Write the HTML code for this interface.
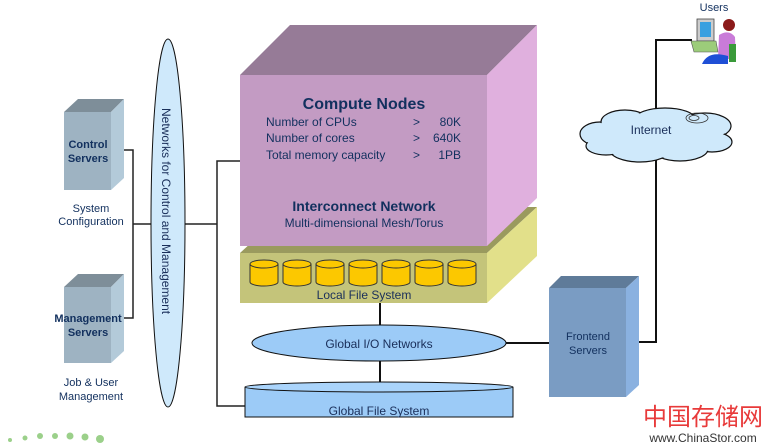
<!DOCTYPE html>
<html><head><meta charset="utf-8"><style>
body{margin:0;background:#fff;}
svg{display:block;font-family:"Liberation Sans","DejaVu Sans",sans-serif;}
</style></head><body>
<svg width="773" height="447" viewBox="0 0 773 447" xmlns="http://www.w3.org/2000/svg">
<!-- connectors -->
<g stroke="#222" stroke-width="1.5" fill="none">
<polyline points="117,150 133,150 133,318 117,318"/>
<line x1="133" y1="224" x2="152" y2="224"/>
<line x1="185" y1="224" x2="217" y2="224"/>
<polyline points="240,161 217,161 217,406 247,406"/>
</g>
<g stroke="#111" stroke-width="2" fill="none">
<line x1="380" y1="302" x2="380" y2="326"/>
<line x1="380" y1="360" x2="380" y2="382"/>
<line x1="504" y1="343" x2="549" y2="343"/>
<polyline points="636,342 656,342 656,40 692,40"/>
</g>
<!-- vertical ellipse -->
<ellipse cx="168" cy="223" rx="17" ry="184" fill="#cfe9fb" stroke="#111" stroke-width="1"/>
<text transform="translate(162,108) rotate(90)" font-size="12" fill="#1a2f5a">Networks for Control and Management</text>
<!-- control server -->
<polygon points="64,112 78,99 124,99 111,112" fill="#7e8e99"/>
<polygon points="111,112 124,99 124,178 111,190" fill="#b3cad9"/>
<rect x="64" y="112" width="47" height="78" fill="#9eb3c2"/>
<text x="88" y="148" font-size="11" font-weight="bold" fill="#12305e" text-anchor="middle">Control</text>
<text x="88" y="162" font-size="11" font-weight="bold" fill="#12305e" text-anchor="middle">Servers</text>
<text x="91" y="212" font-size="11" fill="#12305e" text-anchor="middle">System</text>
<text x="91" y="225" font-size="11" fill="#12305e" text-anchor="middle">Configuration</text>
<!-- mgmt server -->
<polygon points="64,287 78,274 124,274 111,287" fill="#7e8e99"/>
<polygon points="111,287 124,274 124,351 111,363" fill="#b3cad9"/>
<rect x="64" y="287" width="47" height="76" fill="#9eb3c2"/>
<text x="88" y="322" font-size="11" font-weight="bold" fill="#12305e" text-anchor="middle">Management</text>
<text x="88" y="336" font-size="11" font-weight="bold" fill="#12305e" text-anchor="middle">Servers</text>
<text x="91" y="386" font-size="11" fill="#12305e" text-anchor="middle">Job &amp; User</text>
<text x="91" y="400" font-size="11" fill="#12305e" text-anchor="middle">Management</text>
<!-- local FS layer -->
<polygon points="240,253 290,207 537,207 487,253" fill="#9a9a5e"/>
<polygon points="487,253 537,207 537,256 487,303" fill="#e2e08a"/>
<rect x="240" y="253" width="247" height="50" fill="#c4c47a"/>
<g fill="#fcc800" stroke="#333" stroke-width="1">
<g id="cy"><path d="M250,264 v18 a14,4 0 0 0 28,0 v-18"/><ellipse cx="264" cy="264" rx="14" ry="4"/></g>
<use href="#cy" x="33"/><use href="#cy" x="66"/><use href="#cy" x="99"/><use href="#cy" x="132"/><use href="#cy" x="165"/><use href="#cy" x="198"/>
</g>
<text x="364" y="299" font-size="12" fill="#1a2f5a" text-anchor="middle">Local File System</text>
<!-- compute nodes -->
<polygon points="240,75 290,25 537,25 487,75" fill="#967b97"/>
<polygon points="487,75 537,25 537,198 487,246" fill="#e0b0de"/>
<rect x="240" y="75" width="247" height="171" fill="#c39bc3"/>
<text x="364" y="109" font-size="16" font-weight="bold" fill="#12305e" text-anchor="middle">Compute Nodes</text>
<g font-size="12" fill="#12305e">
<text x="266" y="126">Number of CPUs</text><text x="413" y="126">&gt;</text><text x="461" y="126" text-anchor="end">80K</text>
<text x="266" y="142">Number of cores</text><text x="413" y="142">&gt;</text><text x="461" y="142" text-anchor="end">640K</text>
<text x="266" y="159">Total memory capacity</text><text x="413" y="159">&gt;</text><text x="461" y="159" text-anchor="end">1PB</text>
</g>
<text x="364" y="211" font-size="14" font-weight="bold" fill="#12305e" text-anchor="middle">Interconnect Network</text>
<text x="364" y="227" font-size="12" fill="#12305e" text-anchor="middle">Multi-dimensional Mesh/Torus</text>
<!-- global IO -->
<ellipse cx="379" cy="343" rx="127" ry="18" fill="#9ccbf7" stroke="#111" stroke-width="1"/>
<text x="379" y="348" font-size="12" fill="#1a2f5a" text-anchor="middle">Global I/O Networks</text>
<!-- global FS -->
<path d="M245,387 v30 h268 v-30" fill="#9ccbf7" stroke="#111" stroke-width="1"/>
<ellipse cx="379" cy="387" rx="134" ry="5" fill="#aad4fb" stroke="#111" stroke-width="1"/>
<text x="379" y="415" font-size="12" fill="#1a2f5a" text-anchor="middle">Global File System</text>
<!-- frontend -->
<polygon points="549,288 561,276 639,276 626,288" fill="#5f7b99"/>
<polygon points="626,288 639,276 639,385 626,397" fill="#8ab1e0"/>
<rect x="549" y="288" width="77" height="109" fill="#7a9cc3"/>
<text x="588" y="340" font-size="11" fill="#12305e" text-anchor="middle">Frontend</text>
<text x="588" y="354" font-size="11" fill="#12305e" text-anchor="middle">Servers</text>
<!-- cloud -->
<g stroke="#111" stroke-width="1.2" fill="#cfe9fb">
<ellipse cx="600" cy="134" rx="20" ry="12"/>
<ellipse cx="625" cy="122" rx="24" ry="12"/>
<ellipse cx="665" cy="119" rx="30" ry="11"/>
<ellipse cx="705" cy="126" rx="26" ry="13"/>
<ellipse cx="712" cy="142" rx="20" ry="10"/>
<ellipse cx="680" cy="149" rx="28" ry="12"/>
<ellipse cx="640" cy="150" rx="30" ry="12"/>
<ellipse cx="606" cy="146" rx="20" ry="9"/>
</g>
<g fill="#cfe9fb">
<ellipse cx="600" cy="134" rx="19" ry="11"/>
<ellipse cx="625" cy="122" rx="23" ry="11"/>
<ellipse cx="665" cy="119" rx="29" ry="10"/>
<ellipse cx="705" cy="126" rx="25" ry="12"/>
<ellipse cx="712" cy="142" rx="19" ry="9"/>
<ellipse cx="680" cy="149" rx="27" ry="11"/>
<ellipse cx="640" cy="150" rx="29" ry="11"/>
<ellipse cx="606" cy="146" rx="19" ry="8"/>
<ellipse cx="655" cy="135" rx="55" ry="16"/>
</g>
<ellipse cx="697" cy="118" rx="11" ry="5" fill="none" stroke="#333" stroke-width="0.8"/>
<ellipse cx="694" cy="118" rx="5" ry="2.5" fill="none" stroke="#333" stroke-width="0.8"/>
<text x="651" y="134" font-size="12" fill="#1a2f5a" text-anchor="middle">Internet</text>
<!-- user -->
<text x="714" y="11" font-size="11" fill="#12305e" text-anchor="middle">Users</text>
<rect x="697" y="19" width="17" height="22" fill="#ccc" stroke="#444" stroke-width="0.8"/>
<rect x="700" y="22" width="11" height="15" fill="#39a0e0"/>
<polygon points="691,41 716,41 718,52 694,52" fill="#9ccc7a" stroke="#555" stroke-width="0.6"/>
<circle cx="729" cy="25" r="6" fill="#8b1a1a"/>
<path d="M719,35 q10,-6 16,2 l1,22 h-18z" fill="#c97bd8"/>
<rect x="729" y="44" width="7" height="18" fill="#3a9a3a"/>
<path d="M702,64 q6,-14 26,-8 l0,8z" fill="#1f4fd6"/>
<!-- watermark -->
<text x="703" y="425" font-size="24" fill="#e83a3a" text-anchor="middle" font-family="'Noto Sans CJK SC',sans-serif">中国存储网</text>
<text x="703" y="442" font-size="12" fill="#333" text-anchor="middle">www.ChinaStor.com</text>
<g fill="#9bd08a"><circle cx="10" cy="440" r="2"/><circle cx="25" cy="438" r="2.5"/><circle cx="40" cy="436" r="3"/><circle cx="55" cy="436" r="3"/><circle cx="70" cy="436" r="3.5"/><circle cx="85" cy="437" r="3.5"/><circle cx="100" cy="439" r="4"/></g>
</svg>
</body></html>
